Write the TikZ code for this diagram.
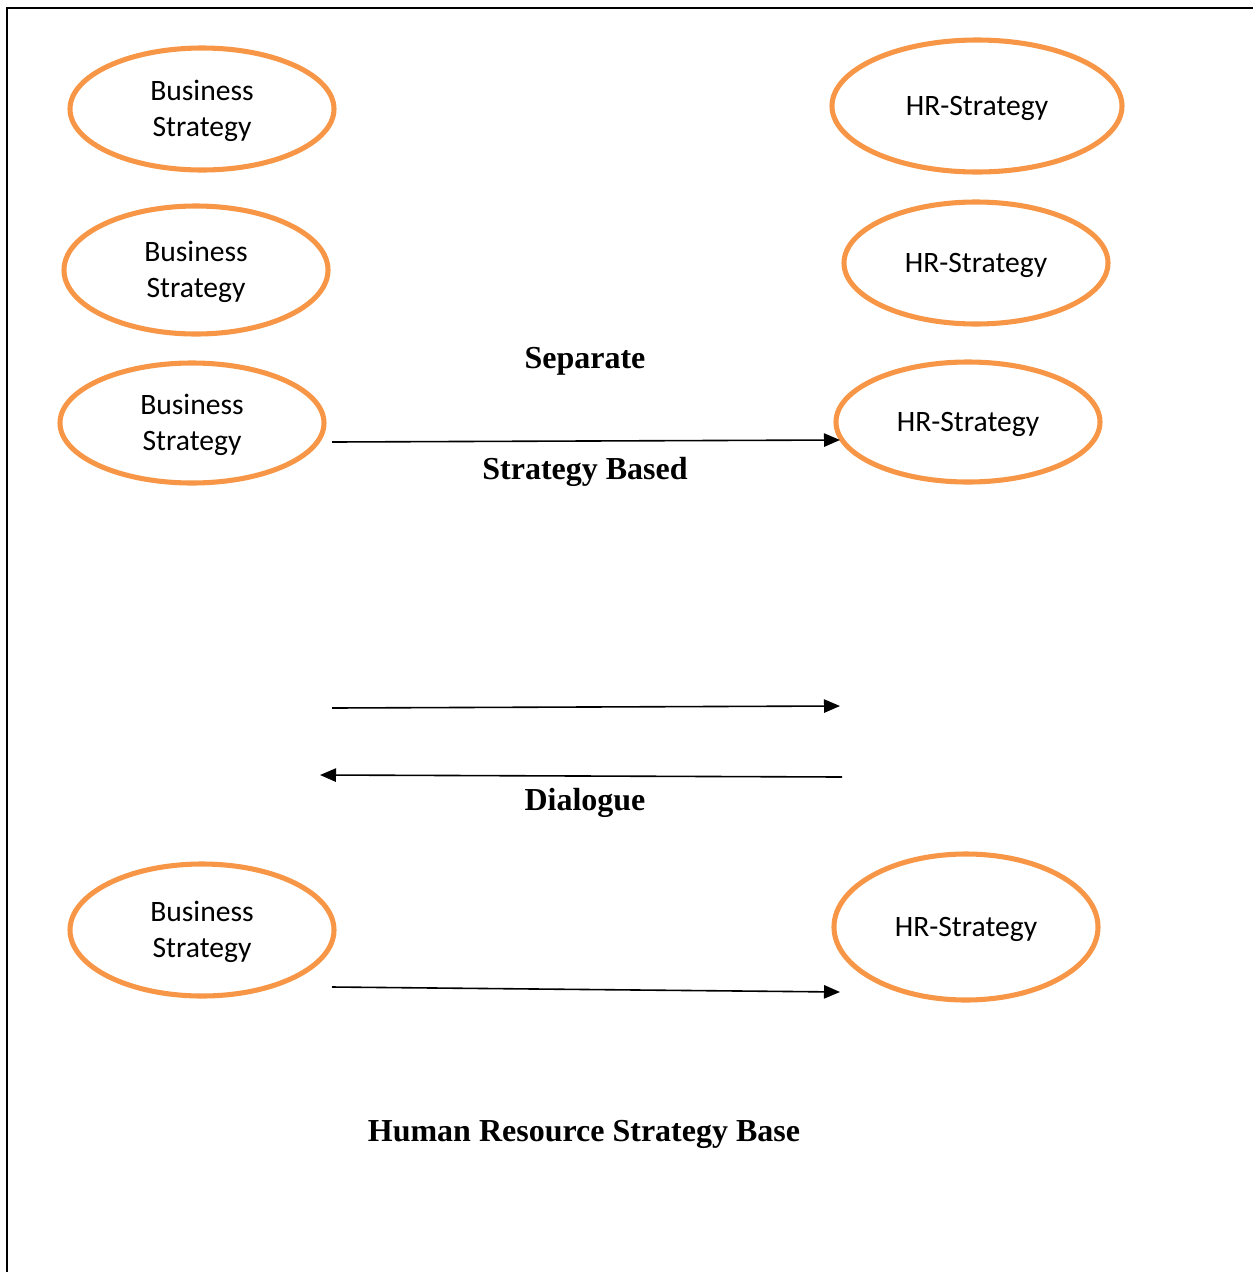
\documentclass[tikz,border=0pt]{standalone}
\usepackage{fontspec}
\setmainfont{Liberation Serif}
\newfontfamily\calib{Carlito}
\usetikzlibrary{arrows.meta}
\begin{document}
\begin{tikzpicture}[x=0.75pt,y=-0.75pt,
  ovtext/.style={font=\calib\fontsize{22.2}{27}\selectfont,align=center},
  lbl/.style={font=\bfseries\fontsize{24}{28}\selectfont},
  arr/.style={line width=1.2pt,-{Triangle[length=12pt,width=10pt]}}]
\definecolor{ovalorange}{HTML}{F79646}
\useasboundingbox (0,0) rectangle (1253,1272);
% border
\coordinate (tl) at (7,8);
\coordinate (tr) at (1253,8);
\coordinate (bl) at (7,1272);
\draw[line width=2pt] (tr) -- (tl) -- (bl);
% ellipses
\newcommand{\ovalnode}[6]{%
  \draw[draw=ovalorange,line width=3.8pt] (#2,#3) ellipse [x radius=#4,y radius=#5];
  \node[ovtext] (#1) at (#2,#3+2) {#6};}
\ovalnode{bs1}{202}{109}{132}{61}{Business\\Strategy}
\ovalnode{bs2}{196}{270}{132}{64}{Business\\Strategy}
\ovalnode{bs3}{192}{423}{132}{60}{Business\\Strategy}
\ovalnode{bs4}{202}{930}{132}{66}{Business\\Strategy}
\ovalnode{hr1}{977}{106}{145}{66}{HR-Strategy}
\ovalnode{hr2}{976}{263}{132}{61}{HR-Strategy}
\ovalnode{hr3}{968}{422}{132}{60}{HR-Strategy}
\ovalnode{hr4}{966}{927}{132}{73}{HR-Strategy}
% labels
\node[lbl] (sep) at (585,361) {Separate};
\node[lbl] (sb) at (585,472) {Strategy Based};
\node[lbl] (dia) at (585,803) {Dialogue};
\node[lbl] (hrsb) at (584,1134) {Human Resource Strategy Base};
% arrow endpoints
\coordinate (a1s) at (332,442);
\coordinate (a1e) at (840,440);
\coordinate (a2s) at (332,708);
\coordinate (a2e) at (840,706);
\coordinate (a3s) at (842,777);
\coordinate (a3e) at (320,775);
\coordinate (a4s) at (332,987);
\coordinate (a4e) at (840,992);
\draw[arr] (a1s) -- (a1e);
\draw[arr] (a2s) -- (a2e);
\draw[arr] (a3s) -- (a3e);
\draw[arr] (a4s) -- (a4e);
\end{tikzpicture}
\end{document}
